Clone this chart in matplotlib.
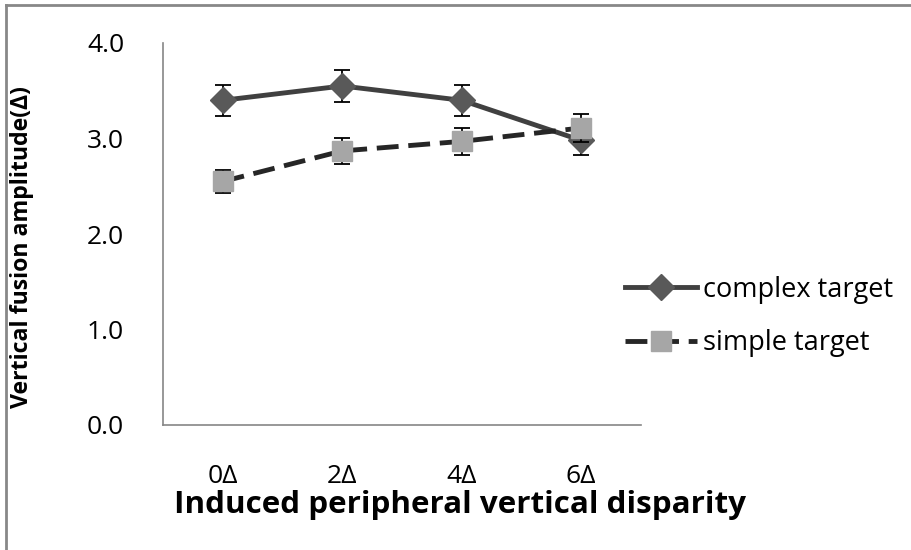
import matplotlib.pyplot as plt
from matplotlib.lines import Line2D

plt.rcParams['font.family'] = ['Open Sans', 'DejaVu Sans']

categories = ['0Δ', '2Δ', '4Δ', '6Δ']
complex_vals = [3.40, 3.55, 3.40, 2.98]
complex_err = [0.165, 0.17, 0.165, 0.15]
simple_vals = [2.55, 2.87, 2.97, 3.11]
simple_err = [0.12, 0.14, 0.14, 0.15]

W, H = 912, 550
fig = plt.figure(figsize=(W/100, H/100), dpi=100)
ax = fig.add_axes([163/W, 1-425/H, (641-163)/W, (425-43)/H])

x = list(range(len(categories)))

ax.errorbar(x, complex_vals, yerr=complex_err, color='#404040', lw=3.5,
            marker='D', ms=13, mfc='#595959', mec='#595959',
            ecolor='black', elinewidth=1.3, capsize=6, capthick=1.3,
            label='complex target', zorder=3)
ax.errorbar(x, simple_vals, yerr=simple_err, color='#262626', lw=3.5,
            ls=(0, (4.5, 2.0)), marker='s', ms=15, mfc='#a6a6a6', mec='#a6a6a6',
            ecolor='black', elinewidth=1.3, capsize=6, capthick=1.3,
            label='simple target', zorder=4)

ax.set_xlim(-0.5, 3.5)
ax.set_ylim(0, 4)
ax.set_yticks([0, 1, 2, 3, 4])
ax.set_yticklabels(['0.0', '1.0', '2.0', '3.0', '4.0'])
ax.set_xticks(x)
ax.set_xticklabels(categories)
ax.tick_params(length=0, labelsize=19)
ax.tick_params(axis='y', pad=28)
ax.tick_params(axis='x', pad=28)

for s in ['top', 'right']:
    ax.spines[s].set_visible(False)
for s in ['left', 'bottom']:
    ax.spines[s].set_color('#868686')
    ax.spines[s].set_linewidth(1.2)

# axis titles
fig.text(460/W, 1-505/H, 'Induced peripheral vertical disparity', fontsize=22.6,
         fontweight='bold', ha='center', va='center')
fig.text(22/W, 1-247/H, 'Vertical fusion amplitude(Δ)', fontsize=16.7,
         fontweight='bold', ha='center', va='center', rotation=90)

handles, labels = ax.get_legend_handles_labels()
leg = fig.legend([h[0] for h in handles], labels, loc='center left',
                 bbox_to_anchor=(625/W, 1-316.5/H), frameon=False, fontsize=19.5,
                 handlelength=2.65, handletextpad=0.22, labelspacing=0.95,
                 borderpad=0, borderaxespad=0)

# outer chart frame (only top and left edges visible)
fig.add_artist(Line2D([6/W, 6/W], [0, 1-5/H], color='#888888', lw=2))
fig.add_artist(Line2D([6/W, 1], [1-5/H, 1-5/H], color='#888888', lw=2))

fig.savefig('out.png', dpi=100)
